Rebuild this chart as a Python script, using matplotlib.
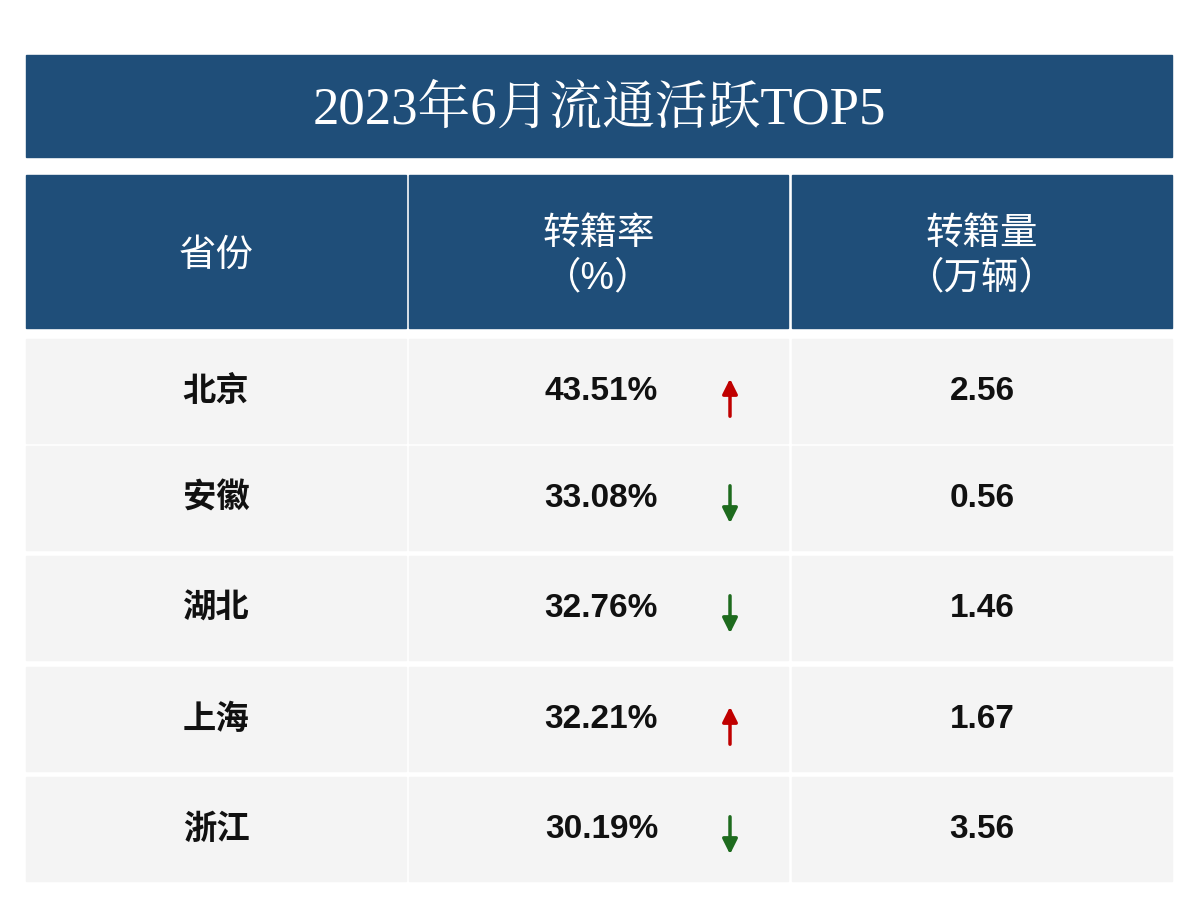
import matplotlib.pyplot as plt
from matplotlib.patches import Rectangle

provinces = ["北京", "安徽", "湖北", "上海", "浙江"]
rates = [43.51, 33.08, 32.76, 32.21, 30.19]
volumes = [2.56, 0.56, 1.46, 1.67, 3.56]
trends = ["up", "down", "down", "up", "down"]

title = "2023年6月流通活跃TOP5"
headers = ["省份", "转籍率\n（%）", "转籍量\n（万辆）"]

navy = "#1F4E79"
cell_bg = "#F4F4F4"
cjk = ["Liberation Sans", "Noto Sans CJK SC"]
serif = ["Liberation Serif", "Noto Serif CJK SC", "Noto Sans CJK SC"]

fig = plt.figure(figsize=(12, 9.2), dpi=100)
ax = fig.add_axes([0, 0, 1, 1])
ax.set_xlim(0, 1200)
ax.set_ylim(920, 0)
ax.axis("off")

# title bar
ax.add_patch(Rectangle((26, 56), 1146, 102, color=navy))
ax.text(599, 110, title, ha="center", va="center", color="white",
        fontsize=38, family=serif)

cols = [(26, 406), (409, 788), (792, 1172)]
for (x0, x1), h in zip(cols, headers):
    ax.add_patch(Rectangle((x0, 176), x1 - x0, 153, color=navy))
    ax.text((x0 + x1) / 2, 256, h, ha="center", va="center", color="white",
            fontsize=27, family=cjk, linespacing=1.3)

row_tops = [340, 447, 557, 668, 778]
row_h = 104
for top, prov, rate, vol, tr in zip(row_tops, provinces, rates, volumes, trends):
    for x0, x1 in cols:
        ax.add_patch(Rectangle((x0, top), x1 - x0, row_h, color=cell_bg))
    yc = top + row_h / 2
    ax.text(216, yc, prov, ha="center", va="center", fontsize=24,
            family=cjk, fontweight="bold", color="#111111")
    ax.text(658, yc, f"{rate:.2f}%", ha="right", va="center", fontsize=24,
            family=cjk, fontweight="bold", color="#111111")
    ax.text(982, yc, f"{vol:.2f}", ha="center", va="center", fontsize=24,
            family=cjk, fontweight="bold", color="#111111")
    if tr == "up":
        ax.annotate("", xy=(730, yc - 15), xytext=(730, yc + 28),
                    arrowprops=dict(arrowstyle="-|>,head_width=0.45,head_length=0.9",
                                    color="#C00000", lw=2.5))
    else:
        ax.annotate("", xy=(730, yc + 28), xytext=(730, yc - 15),
                    arrowprops=dict(arrowstyle="-|>,head_width=0.45,head_length=0.9",
                                    color="#1E6B1E", lw=2.5))

fig.savefig("out.png", dpi=100, facecolor="white")
